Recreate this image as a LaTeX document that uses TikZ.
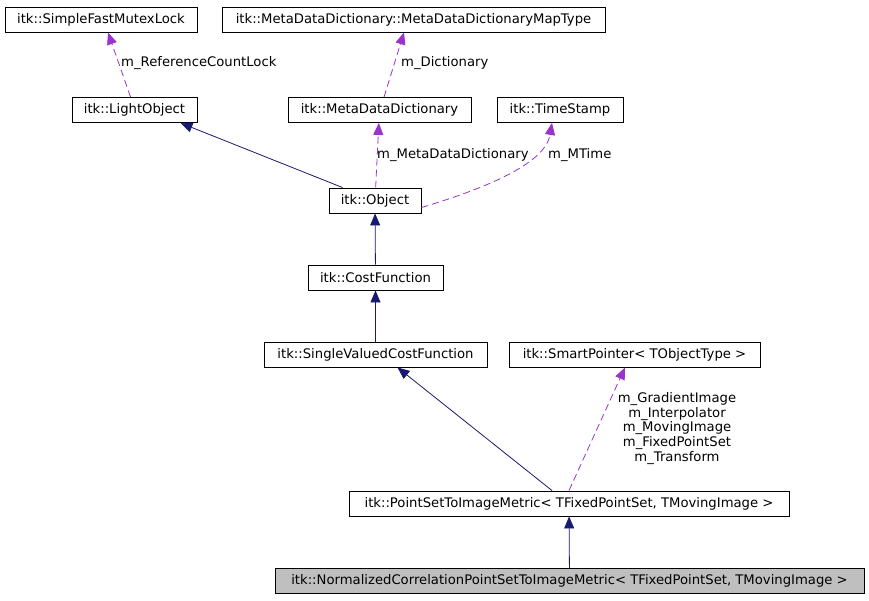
\documentclass[tikz,border=0pt]{standalone}
\usepackage{fontspec}
\setmainfont{DejaVu Sans}
\usepackage{tikz}
\usetikzlibrary{arrows.meta}

\definecolor{edgeblue}{HTML}{191970}
\definecolor{edgepurple}{HTML}{9A32CD}
\definecolor{classgray}{HTML}{BFBFBF}

\tikzset{
	classbox/.style = {draw, black, line width = 0.9pt, minimum height = 25, inner sep = 0pt,
		font = \fontsize{13.2}{15}\selectfont},
	inherit/.style = {edgeblue, line width = 0.8pt, -{Triangle[length=12,width=10]}},
	usage/.style = {edgepurple, line width = 0.8pt, dash pattern = on 7 off 4, -{Triangle[length=12,width=10]}},
	rolelabel/.style = {inner sep = 0pt, font = \fontsize{13.2}{15}\selectfont}
}

\begin{document}
\begin{tikzpicture}[x = 1pt, y = -1pt]
		\useasboundingbox (0,0) rectangle (869,600);
		% classes
		\node[classbox, minimum width = 192] (mutex) at (101,19.5) {itk::SimpleFastMutexLock};
		\node[classbox, minimum width = 383] (maptype) at (413.5,19.5) {itk::MetaDataDictionary::MetaDataDictionaryMapType};
		\node[classbox, minimum width = 125] (light) at (134.5,110) {itk::LightObject};
		\node[classbox, minimum width = 183] (dict) at (379.5,110) {itk::MetaDataDictionary};
		\node[classbox, minimum width = 126] (stamp) at (560,110) {itk::TimeStamp};
		\node[classbox, minimum width = 92] (object) at (375,200.5) {itk::Object};
		\node[classbox, minimum width = 135] (cost) at (375.5,277.5) {itk::CostFunction};
		\node[classbox, minimum width = 223] (single) at (375.5,354.5) {itk::SingleValuedCostFunction};
		\node[classbox, minimum width = 251] (smart) at (634.5,354.5) {itk::SmartPointer< TObjectType >};
		\node[classbox, minimum width = 440] (metric) at (569,503.5) {itk::PointSetToImageMetric< TFixedPointSet, TMovingImage >};
		\node[classbox, fill = classgray, minimum width = 589] (normcorr) at (569.5,581) {itk::NormalizedCorrelationPointSetToImageMetric< TFixedPointSet, TMovingImage >};

		% inheritance
		\draw[inherit] ([xshift=14pt]object.north west) -- ([xshift=-17pt]light.south east);
		\draw[inherit] (cost) -- (object);
		\draw[inherit] (single) -- (cost);
		\draw[inherit] ([xshift=-17pt]metric.north) -- ([xshift=-90pt]single.south east);
		\draw[inherit] (normcorr) -- (metric);

		% members
		\draw[usage] ([xshift=59pt]light.north west) -- ([xshift=7pt]mutex.south);
		\draw[usage] ([xshift=4.5pt]dict.north) -- ([xshift=-9.5pt]maptype.south);
		\draw[usage] (object) -- (dict);
		\draw[usage] ([yshift=-7pt]object.east) .. controls (480,190) and (545,165) .. ([xshift=-8pt]stamp.south);
		\draw[usage] (metric.north) -- ([xshift=-9.5pt]smart.south);

		% member names
		\node[rolelabel, anchor = west] (lockname) at (121,63) {m\_ReferenceCountLock};
		\node[rolelabel, anchor = west] (dictname) at (401,63) {m\_Dictionary};
		\node[rolelabel, anchor = west] (metaname) at (377,155) {m\_MetaDataDictionary};
		\node[rolelabel, anchor = west] (timename) at (548,155) {m\_MTime};
		\node[rolelabel, align = center, font = \fontsize{13.2}{14.6}\selectfont] (smartname) at (677,428.5)
			{m\_GradientImage\\m\_Interpolator\\m\_MovingImage\\m\_FixedPointSet\\m\_Transform};
	\end{tikzpicture}
\end{document}
